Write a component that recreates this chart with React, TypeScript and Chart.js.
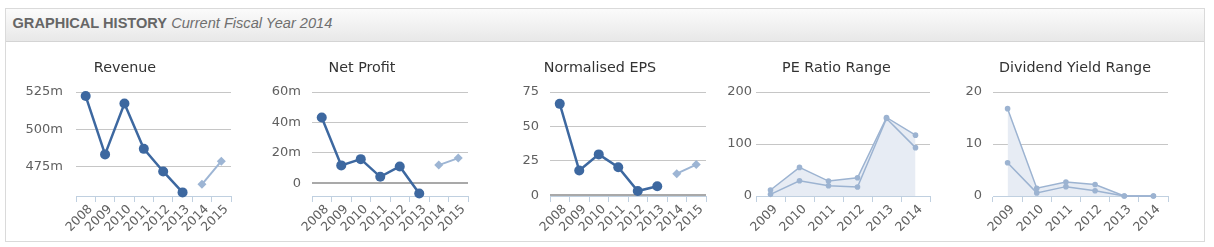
import React, { useEffect, useRef } from 'react';
import { Chart, registerables } from 'chart.js';

Chart.register(...registerables);

// ---------- data ----------
const YEARS_8 = ['2008', '2009', '2010', '2011', '2012', '2013', '2014', '2015'];
const YEARS_6 = ['2009', '2010', '2011', '2012', '2013', '2014'];

const revenueActual = [522.3, 483.3, 517.3, 487.0, 471.9, 457.9, null, null];
const revenueForecast = [null, null, null, null, null, null, 463.3, 478.8];
const revenueTicks = [475, 500, 525];

const netProfitActual = [43.3, 11.8, 15.9, 4.3, 11.1, -6.6, null, null];
const netProfitForecast = [null, null, null, null, null, null, 12.0, 16.6];
const netProfitTicks = [0, 20, 40, 60];

const epsActual = [66.4, 18.0, 29.7, 20.4, 3.1, 6.6, null, null];
const epsForecast = [null, null, null, null, null, null, 15.7, 22.3];
const epsTicks = [0, 25, 50, 75];

const peHigh = [11.5, 55, 28.7, 35, 151, 117];
const peLow = [3.2, 29.3, 19.7, 17.2, 149, 93];
const peTicks = [0, 100, 200];

const dyHigh = [16.8, 1.5, 2.7, 2.2, 0, 0];
const dyLow = [6.4, 0.6, 1.8, 1.0, 0, 0];
const dyTicks = [0, 10, 20];

// ---------- styling ----------
const DARK = '#3d68a0';
const LIGHT = '#9db5d4';
const RANGE = '#9cb3d1';
const RANGE_FILL = '#e7ecf4';
const FONT = 'DejaVu Sans';
const W = 237;
const H = 198;
const TOP = 42;

type Spec = {
  title: string;
  titleX: number;
  left: number;
  plotLeft: number;
  plotRight: number;
  labelPad: number;
  labels: string[];
  datasets: any[];
  yMin: number;
  yMax: number;
  yTicks: number[];
  suffix: string;
  darkZero?: boolean;
};

const actualSet = (data: (number | null)[]) => ({
  data,
  borderColor: DARK,
  backgroundColor: DARK,
  borderWidth: 2.5,
  pointRadius: 5,
  pointHoverRadius: 5,
  pointBorderWidth: 0,
  tension: 0,
  fill: false,
  clip: false,
});

const forecastSet = (data: (number | null)[]) => ({
  data,
  borderColor: LIGHT,
  backgroundColor: LIGHT,
  borderWidth: 2,
  pointStyle: 'rectRot',
  pointRadius: 4.5,
  pointHoverRadius: 4.5,
  pointBorderWidth: 0,
  tension: 0,
  fill: false,
  clip: false,
});

const rangeSet = (data: number[], filled: boolean) => ({
  data,
  borderColor: RANGE,
  backgroundColor: filled ? RANGE_FILL : RANGE,
  pointBackgroundColor: RANGE,
  borderWidth: 1.5,
  pointRadius: 2.8,
  pointHoverRadius: 2.8,
  pointBorderWidth: 0,
  tension: 0,
  fill: filled ? 'origin' : false,
  clip: false,
});

const SPECS: Spec[] = [
  {
    title: 'Revenue', titleX: 125, left: 6, plotLeft: 76, plotRight: 231, labelPad: 13,
    labels: YEARS_8, datasets: [actualSet(revenueActual), forecastSet(revenueForecast)],
    yMin: 455.5, yMax: 525, yTicks: revenueTicks, suffix: 'm',
  },
  {
    title: 'Net Profit', titleX: 362, left: 244, plotLeft: 312, plotRight: 468, labelPad: 11,
    labels: YEARS_8, datasets: [actualSet(netProfitActual), forecastSet(netProfitForecast)],
    yMin: -8.3, yMax: 60, yTicks: netProfitTicks, suffix: 'm', darkZero: true,
  },
  {
    title: 'Normalised EPS', titleX: 600, left: 481, plotLeft: 550, plotRight: 706, labelPad: 11,
    labels: YEARS_8, datasets: [actualSet(epsActual), forecastSet(epsForecast)],
    yMin: -0.5, yMax: 75, yTicks: epsTicks, suffix: '', darkZero: true,
  },
  {
    title: 'PE Ratio Range', titleX: 836.5, left: 719, plotLeft: 756, plotRight: 930, labelPad: 4,
    labels: YEARS_6, datasets: [rangeSet(peHigh, true), rangeSet(peLow, false)],
    yMin: 0, yMax: 200, yTicks: peTicks, suffix: '',
  },
  {
    title: 'Dividend Yield Range', titleX: 1075, left: 956, plotLeft: 993, plotRight: 1168, labelPad: 11,
    labels: YEARS_6, datasets: [rangeSet(dyHigh, true), rangeSet(dyLow, false)],
    yMin: 0, yMax: 20, yTicks: dyTicks, suffix: '',
  },
];

function MiniChart({ spec }: { spec: Spec }) {
  const ref = useRef<HTMLCanvasElement>(null);

  useEffect(() => {
    const yWidth = spec.plotLeft - spec.left;
    const padRight = W - (spec.plotRight - spec.left);
    const titlePlugin = {
      id: 'fixedTitle',
      afterDraw(chart: any) {
        const ctx = chart.ctx;
        ctx.save();
        ctx.font = `14.3px "${FONT}"`;
        ctx.fillStyle = '#333333';
        ctx.textAlign = 'center';
        ctx.textBaseline = 'alphabetic';
        ctx.fillText(spec.title, spec.titleX - spec.left, 72 - TOP);
        ctx.restore();
      },
    };
    const chart = new Chart(ref.current as HTMLCanvasElement, {
      type: 'line',
      data: { labels: spec.labels, datasets: spec.datasets },
      plugins: [titlePlugin],
      options: {
        animation: false,
        responsive: false,
        devicePixelRatio: 1,
        events: [],
        layout: { padding: { top: 50, bottom: 0, left: 0, right: padRight } },
        plugins: {
          legend: { display: false },
          title: { display: false },
          tooltip: { enabled: false },
          filler: { drawTime: 'beforeDatasetsDraw' },
        },
        scales: {
          x: {
            type: 'category',
            offset: true,
            grid: {
              offset: true,
              drawOnChartArea: false,
              drawTicks: true,
              tickLength: 6,
              color: '#c0d0e0',
              lineWidth: 1,
            },
            border: { display: true, color: '#c0d0e0', width: 1 },
            ticks: {
              autoSkip: false,
              minRotation: 45,
              maxRotation: 45,
              color: '#606060',
              padding: 0,
              labelOffset: 5,
              font: { family: FONT, size: 12.5 },
            },
            afterFit: (s: any) => {
              s.height = H - 154;
            },
          },
          y: {
            min: spec.yMin,
            max: spec.yMax,
            afterBuildTicks: (s: any) => {
              s.ticks = spec.yTicks.map((v) => ({ value: v }));
            },
            grid: {
              drawTicks: false,
              color: (c: any) =>
                spec.darkZero && c.tick && c.tick.value === 0 ? '#a9a9a9' : '#c6c6c6',
              lineWidth: (c: any) =>
                spec.darkZero && c.tick && c.tick.value === 0 ? 2 : 1,
            },
            border: { display: false },
            ticks: {
              color: '#606060',
              padding: spec.labelPad,
              font: { family: FONT, size: 13 },
              callback: (v: any) => (v === 0 ? '0' : `${v}${spec.suffix}`),
            },
            afterFit: (s: any) => {
              s.width = yWidth;
            },
          },
        },
      } as any,
    });
    return () => chart.destroy();
  }, [spec]);

  return (
    <canvas
      ref={ref}
      width={W}
      height={H}
      style={{ position: 'absolute', left: spec.left, top: TOP, width: W, height: H }}
    />
  );
}

export default function App() {
  return (
    <div style={{ position: 'absolute', left: 0, top: 0, width: 1214, height: 247, background: '#fff' }}>
      <div
        style={{
          position: 'absolute',
          left: 5,
          top: 8,
          width: 1200,
          height: 234,
          boxSizing: 'border-box',
          border: '1px solid #dadada',
        }}
      >
        <div
          style={{
            position: 'absolute',
            left: 0,
            top: 0,
            right: 0,
            height: 33,
            boxSizing: 'border-box',
            background: 'linear-gradient(#fbfbfb, #e8e8e8)',
            borderBottom: '1px solid #d4d4d4',
          }}
        >
          <div
            style={{
              position: 'absolute',
              left: 6.5,
              top: 5.5,
              lineHeight: '17px',
              fontFamily: '"Liberation Sans", Arial, sans-serif',
              fontSize: 14.6,
              whiteSpace: 'nowrap',
            }}
          >
            <span style={{ fontWeight: 'bold', color: '#666666' }}>GRAPHICAL HISTORY</span>{' '}
            <span style={{ fontStyle: 'italic', color: '#6f6f6f' }}>Current Fiscal Year 2014</span>
          </div>
        </div>
      </div>
      {SPECS.map((s) => (
        <MiniChart key={s.title} spec={s} />
      ))}
    </div>
  );
}
